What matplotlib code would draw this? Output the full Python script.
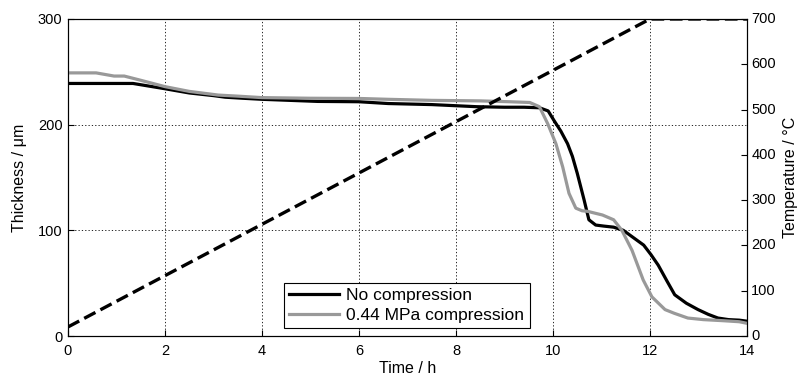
import matplotlib
matplotlib.use("Agg")
import matplotlib.pyplot as plt
import numpy as np

plt.rcParams['font.family'] = ['Liberation Sans', 'DejaVu Sans']

# Black curve: no compression (time h, thickness um)
t_nocomp = [0, 0.5, 1.0, 1.34, 2.0, 2.5, 3.0, 3.24, 3.6, 4.0, 5.15, 6.0, 6.6, 7.5, 8.43, 9.0, 9.4, 9.72,
            9.9, 10.02, 10.16, 10.30, 10.40, 10.50, 10.64, 10.74, 10.88, 11.05, 11.25, 11.45, 11.63,
            11.87, 12.02, 12.17, 12.35, 12.51, 12.75, 12.99, 13.2, 13.4, 13.62, 13.84, 14.0]
th_nocomp = [239, 239, 239, 239, 234, 230, 227.5, 226, 225, 224, 222, 221.7, 220, 219, 217, 216.5, 216.5, 216,
             213, 204, 194, 182, 170, 154, 129, 110, 105, 104, 103, 100, 94,
             86, 77, 67, 52, 39, 31, 25, 20.5, 17, 15.5, 15, 14]

# Gray curve: 0.44 MPa compression
t_comp = [0, 0.3, 0.58, 0.95, 1.16, 1.5, 2.0, 2.5, 3.1, 3.5, 4.0, 5.0, 6.0, 6.6, 7.5, 8.5, 9.1, 9.52,
          9.72, 9.89, 10.06, 10.2, 10.33, 10.47, 10.6, 10.71, 11.02, 11.25, 11.42, 11.63, 11.86,
          12.04, 12.31, 12.5, 12.78, 13.1, 13.5, 13.84, 14.0]
th_comp = [249, 249, 249, 246, 246, 242, 236, 231.5, 228, 227, 225.6, 225, 224.8, 224, 223, 222.5, 221.7, 221,
           217, 201, 182, 160, 135, 121, 118.5, 118, 114.5, 110, 100, 81, 53,
           37, 25, 21.5, 17, 15.5, 14.5, 13.5, 12]

# Temperature program (dashed line, right axis)
t_temp = [0, 12, 14]
temp = [20, 700, 700]

x_ticks = [0, 2, 4, 6, 8, 10, 12, 14]
y_ticks = [0, 100, 200, 300]
y2_ticks = [0, 100, 200, 300, 400, 500, 600, 700]

fig = plt.figure(figsize=(8.01, 3.82), dpi=100)
W, H = 801, 382
left, right, top, bottom = 68, 747, 19, 336
ax = fig.add_axes([left / W, 1 - bottom / H, (right - left) / W, (bottom - top) / H])

FS = 10.5
LFS = 11.5
l1, = ax.plot(t_nocomp, th_nocomp, color='black', lw=2.3, label='No compression', zorder=3)
l2, = ax.plot(t_comp, th_comp, color='#999999', lw=2.3, label='0.44 MPa compression', zorder=4)
ax.set_xlim(0, 14)
ax.set_ylim(0, 300)
ax.set_xticks(x_ticks)
ax.set_yticks(y_ticks)
ax.grid(True, color='black', lw=0.6, linestyle=(0, (1.5, 2.5)))
ax.tick_params(axis='x', direction='in', length=4, width=0.8, labelsize=FS, top=False, pad=6)
ax.tick_params(axis='y', direction='in', length=4, width=0.8, labelsize=FS, right=False, pad=4)
ax.set_xlabel('Time / h', fontsize=LFS, labelpad=2)
ax.set_ylabel('Thickness / μm', fontsize=LFS, labelpad=8)
for s in ax.spines.values():
    s.set_linewidth(0.8)

ax2 = ax.twinx()
ax2.plot(t_temp, temp, color='black', lw=2.4, linestyle=(0, (3.8, 1.7)), zorder=3)
ax2.set_ylim(0, 700)
ax2.set_yticks(y2_ticks)
ax2.tick_params(direction='in', length=4, width=0.8, labelsize=FS, pad=3)
for lab in ax2.get_yticklabels():
    lab.set_verticalalignment('center')
ax2.set_ylabel('Temperature / °C', fontsize=LFS, labelpad=5)
for s in ax2.spines.values():
    s.set_linewidth(0.8)

leg = ax2.legend(handles=[l1, l2], loc='lower left', bbox_to_anchor=(0.318, 0.025),
                 fontsize=12.5, frameon=True, fancybox=False, edgecolor='black',
                 handlelength=2.9, handletextpad=0.4, borderpad=0.3, labelspacing=0.25,
                 borderaxespad=0)
leg.get_frame().set_linewidth(0.8)
leg.get_frame().set_alpha(1)

fig.savefig('out.png', dpi=100)
